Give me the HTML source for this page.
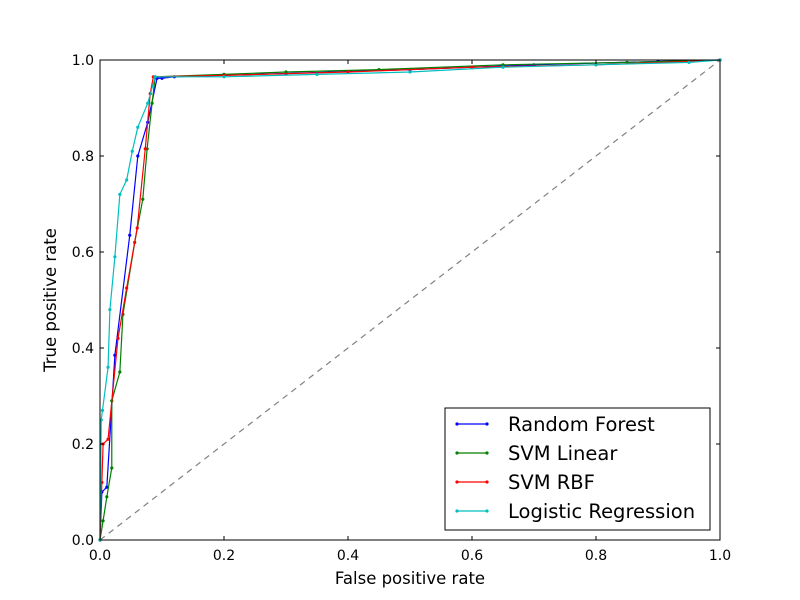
<!DOCTYPE html>
<html><head><meta charset="utf-8"><style>
body{margin:0;background:#fff}
svg{display:block;font-family:"DejaVu Sans","Liberation Sans",sans-serif}
</style></head><body>
<svg id="chart" width="800" height="600">
<rect width="800" height="600" fill="#fff"/>
<g id="plot"></g>
<g id="axes"></g>
</svg>
<script>
const xTicks=[0,0.2,0.4,0.6,0.8,1.0];
const yTicks=[0,0.2,0.4,0.6,0.8,1.0];
const seriesNames=["Random Forest","SVM Linear","SVM RBF","Logistic Regression"];
const seriesColors=["#0000ff","#008000","#ff0000","#00bfbf"];
const rfX=[0,0.003,0.011,0.024,0.048,0.061,0.077,0.092,0.1,0.12,0.3,0.5,0.7,0.9,1];
const rfY=[0,0.1,0.11,0.385,0.635,0.80,0.87,0.962,0.962,0.965,0.972,0.98,0.99,0.997,1];
const linX=[0,0.005,0.011,0.019,0.019,0.032,0.037,0.056,0.069,0.076,0.084,0.089,0.2,0.3,0.45,0.65,0.85,1];
const linY=[0,0.04,0.09,0.15,0.29,0.35,0.47,0.62,0.71,0.815,0.91,0.965,0.97,0.975,0.98,0.99,0.995,1];
const rbfX=[0,0.003,0.005,0.013,0.029,0.043,0.06,0.073,0.081,0.086,0.2,0.4,0.6,0.8,0.95,1];
const rbfY=[0,0.12,0.2,0.21,0.42,0.525,0.65,0.815,0.93,0.965,0.968,0.975,0.985,0.99,0.997,1];
const lrX=[0,0.002,0.004,0.013,0.016,0.024,0.032,0.043,0.052,0.061,0.077,0.089,0.2,0.35,0.5,0.65,0.8,0.95,1];
const lrY=[0,0.25,0.27,0.36,0.48,0.59,0.72,0.75,0.81,0.86,0.91,0.965,0.965,0.97,0.975,0.985,0.99,0.995,1];
const allX=[rfX,linX,rbfX,lrX], allY=[rfY,linY,rbfY,lrY];
const L=100,R=720,T=60,B=540;
const sx=v=>L+v*(R-L), sy=v=>B-v*(B-T);
const NS="http://www.w3.org/2000/svg";
function mk(t,a,p){const e=document.createElementNS(NS,t);for(const k in a)e.setAttribute(k,a[k]);p.appendChild(e);return e;}
const plot=document.getElementById('plot'), axes=document.getElementById('axes');
const diag=mk('line',{x1:sx(0),y1:sy(0),x2:sx(1),y2:sy(1),stroke:'#808080','stroke-width':1.2,'stroke-dasharray':'6,5'},plot);


for(let s=0;s<4;s++){
  const g=mk('g',{},plot);
  
  
  const pts=allX[s].map((x,i)=>sx(x)+','+sy(allY[s][i])).join(' ');
  mk('polyline',{points:pts,fill:'none',stroke:seriesColors[s],'stroke-width':1.2},g);
  allX[s].forEach((x,i)=>{mk('circle',{cx:sx(x),cy:sy(allY[s][i]),r:1.6,fill:seriesColors[s]},g);});
}
const frame=mk('rect',{x:L,y:T,width:R-L,height:B-T,fill:'none',stroke:'#000','stroke-width':1},axes);


xTicks.forEach(v=>{
  mk('line',{x1:sx(v),y1:B,x2:sx(v),y2:B-4,stroke:'#000'},axes);
  mk('line',{x1:sx(v),y1:T,x2:sx(v),y2:T+4,stroke:'#000'},axes);
  const t=mk('text',{x:sx(v),y:B+20,'text-anchor':'middle','font-size':14},axes);t.textContent=v.toFixed(1);
  
  
});
yTicks.forEach(v=>{
  mk('line',{x1:L,y1:sy(v),x2:L+4,y2:sy(v),stroke:'#000'},axes);
  mk('line',{x1:R,y1:sy(v),x2:R-4,y2:sy(v),stroke:'#000'},axes);
  const t=mk('text',{x:L-6,y:sy(v)+5,'text-anchor':'end','font-size':14},axes);t.textContent=v.toFixed(1);
  
  
});
const xt=mk('text',{x:410,y:584,'text-anchor':'middle','font-size':16.5},axes);xt.textContent='False positive rate';


const yt=mk('text',{x:56,y:300,'text-anchor':'middle','font-size':16.5,transform:'rotate(-90 56 300)'},axes);yt.textContent='True positive rate';


const lg=mk('g',{},axes);


mk('rect',{x:445,y:408,width:265,height:122,fill:'#fff',stroke:'#000'},lg);
seriesNames.forEach((n,i)=>{
  const y=424+i*29;
  const e=mk('g',{},lg);
  
  
  mk('line',{x1:457,y1:y,x2:487,y2:y,stroke:seriesColors[i],'stroke-width':1.2},e);
  mk('circle',{cx:457,cy:y,r:1.6,fill:seriesColors[i]},e);
  mk('circle',{cx:487,cy:y,r:1.6,fill:seriesColors[i]},e);
  const t=mk('text',{x:508,y:y+7,'font-size':19.5},e);t.textContent=n;
});
</script>
</body></html>
